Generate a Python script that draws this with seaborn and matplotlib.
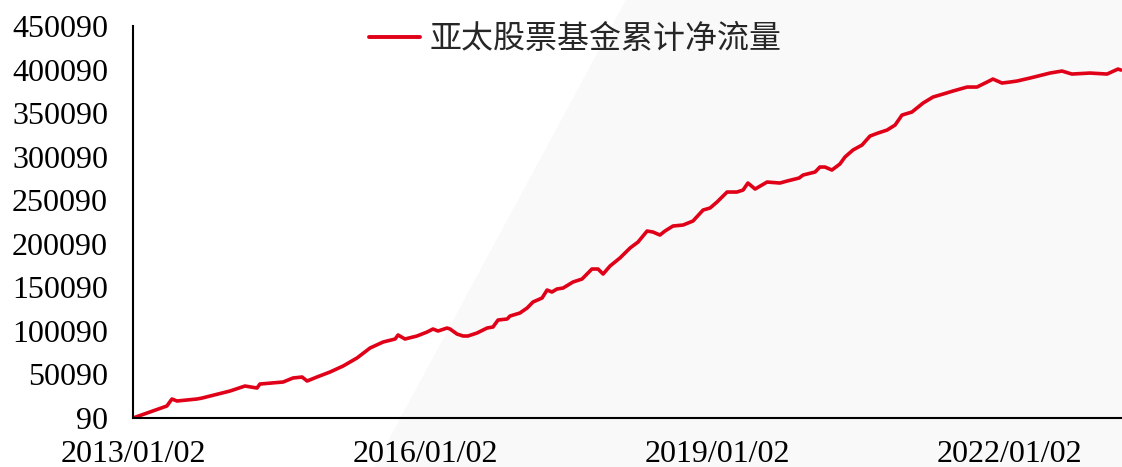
import matplotlib
matplotlib.use("Agg")
import matplotlib.pyplot as plt
import matplotlib.dates as mdates
from matplotlib.patches import Polygon
import seaborn as sns
import pandas as pd
import numpy as np

# values
dates = [
    "2013-01-02", "2013-05-09", "2013-05-28", "2013-06-16", "2013-08-30", "2013-09-18",
    "2014-01-01", "2014-02-26", "2014-04-12", "2014-04-23", "2014-07-19", "2014-08-25",
    "2014-09-28", "2014-10-17", "2014-11-23", "2015-01-11", "2015-03-01", "2015-04-22",
    "2015-06-10", "2015-07-29", "2015-09-12", "2015-09-23", "2015-10-19", "2015-12-03",
    "2016-01-10", "2016-02-01", "2016-02-20", "2016-03-25", "2016-04-05", "2016-05-01",
    "2016-05-24", "2016-06-11", "2016-07-15", "2016-08-22", "2016-09-13", "2016-10-02",
    "2016-11-05", "2016-11-16", "2016-12-23", "2017-01-19", "2017-02-10", "2017-03-16",
    "2017-04-04", "2017-04-22", "2017-05-11", "2017-06-03", "2017-07-10", "2017-08-13",
    "2017-09-19", "2017-10-12", "2017-10-31", "2017-11-26", "2018-01-02", "2018-02-09",
    "2018-03-11", "2018-04-14", "2018-05-06", "2018-06-01", "2018-06-20", "2018-07-20",
    "2018-08-27", "2018-10-03", "2018-11-10", "2018-12-06", "2019-01-01", "2019-02-08",
    "2019-03-17", "2019-04-09", "2019-04-27", "2019-05-24", "2019-07-08", "2019-08-25",
    "2019-09-21", "2019-11-05", "2019-11-20", "2020-01-04", "2020-01-22", "2020-02-10",
    "2020-03-07", "2020-04-06", "2020-04-25", "2020-05-25", "2020-06-28", "2020-07-28",
    "2020-08-27", "2020-09-30", "2020-10-30", "2020-11-25", "2021-01-01", "2021-02-12",
    "2021-03-21", "2021-04-28", "2021-06-04", "2021-07-27", "2021-09-02", "2021-10-10",
    "2021-11-01", "2021-12-05", "2022-01-04", "2022-01-30", "2022-03-20", "2022-06-03",
    "2022-07-18", "2022-08-24", "2022-10-31", "2023-01-03", "2023-02-13", "2023-02-24",
]
flows = [
    90, 13860, 21900, 19600, 21900, 23000,
    31080, 36800, 34500, 39100, 41400, 46000,
    47150, 42560, 47150, 52890, 59780, 68960,
    80440, 87320, 90770, 95360, 90770, 94210,
    98800, 102240, 99950, 103390, 102240, 96510,
    94210, 94210, 97650, 103390, 104540, 112570,
    113720, 117170, 120610, 126350, 133240, 137830,
    147010, 144720, 148160, 149300, 156190, 159630,
    171110, 171110, 165370, 174560, 183740, 195220,
    202100, 214730, 213580, 210140, 214730, 220470,
    221620, 226210, 238840, 241130, 247980, 259490,
    259490, 261790, 269820, 262940, 270970, 269820,
    272120, 275560, 279010, 282450, 288190, 288190,
    284750, 291630, 299670, 307700, 313440, 323770,
    327210, 330650, 336390, 347870, 351310, 361640,
    368530, 371970, 375420, 380010, 380010, 385750,
    389190, 384600, 385750, 386900, 390340, 396080,
    398380, 394930, 396080, 394930, 400670, 399520,
]
series_name = "亚太股票基金累计净流量"
x_ticks = ["2013-01-02", "2016-01-02", "2019-01-02", "2022-01-02"]
y_ticks = list(range(90, 450091, 50000))

df = pd.DataFrame({"date": pd.to_datetime(dates), "flow": flows})

sns.set_style("white")
plt.rcParams["font.family"] = ["Liberation Serif", "Noto Sans CJK SC", "DejaVu Sans"]

fig = plt.figure(figsize=(11.22, 4.67), dpi=100)
# light grey diagonal band in the background
fig.patches.append(Polygon([[626 / 1122, 1], [1, 1], [1, 0], [374 / 1122, 0]],
                           closed=True, transform=fig.transFigure,
                           facecolor="#f9f9f9", edgecolor="none", zorder=-10))
ax = fig.add_axes([133 / 1122, 49 / 467, 1 - 133 / 1122, 392 / 467])
ax.set_facecolor("none")
ax.set_zorder(5)

sns.lineplot(data=df, x="date", y="flow", ax=ax, color="#e00018",
             linewidth=2.6, label=series_name)

ax.set_xlim(pd.Timestamp("2013-01-02"), pd.Timestamp("2023-02-28"))
ax.set_ylim(90, 450090)
ax.set_xticks(pd.to_datetime(x_ticks))
ax.xaxis.set_major_formatter(mdates.DateFormatter("%Y/%m/%d"))
ax.set_yticks(y_ticks)
ax.set_yticklabels([str(v) for v in y_ticks])
ax.set_xlabel("")
ax.set_ylabel("")

for side in ["top", "right"]:
    ax.spines[side].set_visible(False)
for side in ["left", "bottom"]:
    ax.spines[side].set_color("black")
    ax.spines[side].set_linewidth(1.5)
ax.tick_params(axis="both", direction="out", length=7, width=1.3,
               colors="black", labelsize=23)
ax.tick_params(axis="y", pad=11)
ax.tick_params(axis="x", pad=9)

leg = ax.legend(loc="upper center", bbox_to_anchor=(0.447, 1.08), frameon=False,
                prop={"family": ["Noto Sans CJK SC", "DejaVu Sans"], "size": 23},
                handlelength=1.6, handletextpad=0.3)
for line in leg.get_lines():
    line.set_linewidth(2.8)

fig.savefig("out.png", dpi=100)
